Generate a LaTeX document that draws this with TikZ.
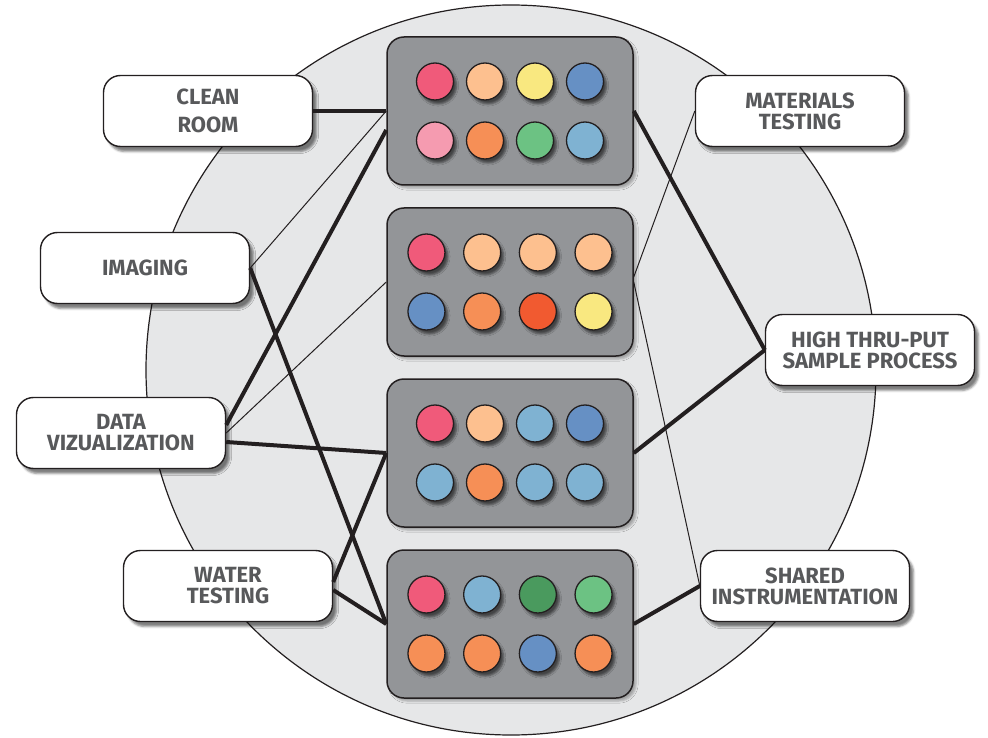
\documentclass[tikz,border=0pt]{standalone}
\usepackage{fontspec}
\setmainfont{Fira Sans}
\usetikzlibrary{shapes, shadows, shadows.blur}
\definecolor{ink}{HTML}{231F20}
\definecolor{ring}{HTML}{E6E7E8}
\definecolor{plategray}{HTML}{939598}
\definecolor{tagtext}{HTML}{58595B}
\definecolor{wred}{HTML}{F05A7A}
\definecolor{wpeach}{HTML}{FDC08F}
\definecolor{wyellow}{HTML}{F9E880}
\definecolor{wblue}{HTML}{6690C4}
\definecolor{wpink}{HTML}{F59BB0}
\definecolor{worange}{HTML}{F68F56}
\definecolor{wgreen}{HTML}{6CC283}
\definecolor{wlblue}{HTML}{7FB2D2}
\definecolor{wrust}{HTML}{F15A30}
\definecolor{wdkgreen}{HTML}{4A9A5E}
\tikzstyle{station} = [rectangle, rounded corners=17pt, minimum width=209pt, minimum height=71pt, align=center, text centered, draw=ink, line width=1.4pt, fill=white, text=tagtext, font=\bfseries\fontsize{22}{21}\selectfont, blur shadow={shadow xshift=4pt, shadow yshift=-5pt, shadow opacity=50}]
\tikzstyle{plate} = [rectangle, rounded corners=17pt, minimum width=246pt, minimum height=148pt, draw=ink, line width=1.5pt, fill=plategray, blur shadow={shadow xshift=3pt, shadow yshift=-3pt, shadow opacity=30}]
\tikzstyle{well} = [circle, minimum size=37pt, inner sep=0pt, draw=ink, line width=1.3pt, blur shadow={shadow xshift=3pt, shadow yshift=-4pt, shadow opacity=55}]
\tikzstyle{link} = [line width=4pt, draw=ink]
\tikzstyle{thinlink} = [line width=1pt, draw=ink]

\begin{document}
\begin{tikzpicture}[x=1pt, y=-1pt]
\useasboundingbox (0,0) rectangle (988,738);

\draw [fill=ring, draw=ink, line width=1.2pt] (511,370) circle (365pt);

% plates with their wells
\node (plate1) [plate] at (510,111) {};
\node (plate2) [plate] at (510,282) {};
\node (plate3) [plate] at (510,453) {};
\node (plate4) [plate] at (510,624) {};

\foreach \pl/\gap/\colours in {1/50/{wred,wpeach,wyellow,wblue,wpink,worange,wgreen,wlblue},
  2/55.7/{wred,wpeach,wpeach,wpeach,wblue,worange,wrust,wyellow},
  3/50/{wred,wpeach,wlblue,wblue,wlblue,worange,wlblue,wlblue},
  4/55.7/{wred,wlblue,wdkgreen,wgreen,worange,worange,wblue,worange}} {
  \foreach \c [count=\k from 0] in \colours {
    \pgfmathsetmacro{\dx}{(mod(\k,4)-1.5)*\gap}
    \pgfmathsetmacro{\dy}{(floor(\k/4)-0.5)*59}
    \node (p\pl w\k) [well, fill=\c, xshift=\dx pt, yshift=-\dy pt] at (plate\pl) {};
  }
}

% stations
\node (clean) [station] at (208,111) {CLEAN\\[7pt]ROOM};
\node (imaging) [station] at (145,268) {IMAGING};
\node (dataviz) [station] at (121,433) {DATA\\VIZUALIZATION};
\node (water) [station] at (228,586) {WATER\\TESTING};
\node (materials) [station] at (800,111) {MATERIALS\\TESTING};
\node (highthru) [station] at (870,350) {HIGH THRU-PUT\\SAMPLE PROCESS};
\node (shared) [station] at (805,586) {SHARED\\INSTRUMENTATION};

\draw [link] (clean.east) -- (plate1.west);
\draw [thinlink] (imaging.east) -- (plate1.west);
\draw [link] (imaging.east) -- (plate4.west);
\draw [link] ([yshift=8pt]dataviz.east) -- ([yshift=-19pt]plate1.west);
\draw [thinlink] (dataviz.east) -- (plate2.west);
\draw [link] ([yshift=-9pt]dataviz.east) -- (plate3.west);
\draw [link] ([yshift=4pt]water.east) -- (plate3.west);
\draw [link] ([yshift=-4pt]water.east) -- (plate4.west);
\draw [link] (plate1.east) -- (highthru.west);
\draw [thinlink] ([yshift=5pt]plate2.east) -- (materials.west);
\draw [thinlink] (plate2.east) -- (shared.west);
\draw [link] (plate3.east) -- (highthru.west);
\draw [link] (plate4.east) -- (shared.west);

\end{tikzpicture}
\end{document}
